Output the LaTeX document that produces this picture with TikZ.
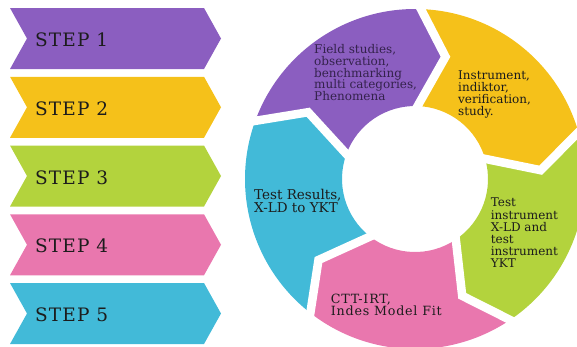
\documentclass[tikz,border=0pt]{standalone}
\usepackage{fontspec}
\setmainfont{DejaVu Serif}
\newfontfamily\spacedserif[LetterSpace=6]{DejaVu Serif}
\usetikzlibrary{calc}
\definecolor{cPurple}{HTML}{8B5EC0}
\definecolor{cYellow}{HTML}{F5C11A}
\definecolor{cGreen}{HTML}{B3D33D}
\definecolor{cPink}{HTML}{E977AE}
\definecolor{cBlue}{HTML}{42BAD8}
\definecolor{ink}{HTML}{1C1C1C}
\definecolor{inkPurple}{HTML}{34224C}

\begin{document}
\begin{tikzpicture}[x=1pt,y=-1pt,
  steplabel/.style={anchor=base west, inner sep=0pt,
    font=\spacedserif\fontsize{18.5}{20}\selectfont, text=ink},
  ringlabel/.style={anchor=north west, inner sep=0pt, align=left, text=ink},
  gapline/.style={white, line width=8.5pt, miter limit=10}]
\useasboundingbox (0,0) rectangle (577,346);
\clip (0,0) rectangle (577,346);

% step chevrons on the left
\foreach \k/\n/\c in {0/1/cPurple,1/2/cYellow,2/3/cGreen,3/4/cPink,4/5/cBlue}{
  \pgfmathsetmacro\yt{8+68.75*\k}
  \fill[\c] (10,\yt) -- (204,\yt) -- (221,\yt+30.5) -- (204,\yt+61)
    -- (10,\yt+61) -- (27,\yt+30.5) -- cycle;
  \node[steplabel] (step\n) at (35,\yt+38.7) {STEP \n};
}

% cycle ring: five chevron-shaped annular segments, clockwise
\begin{scope}[shift={(415,179)}, yscale=-1]
  \foreach \i/\c in {0/cPurple,1/cYellow,2/cGreen,3/cPink,4/cBlue}{
    \pgfmathsetmacro\a{160-72*\i}
    \pgfmathsetmacro\b{\a-72}
    \fill[\c] (\a:170) arc[start angle=\a, end angle=\b, radius=170]
      -- (\b-12:126) -- (\b:73) arc[start angle=\b, end angle=\a, radius=73]
      -- (\a-12:126) -- cycle;
  }
  % white gaps between the segments
  \foreach \i in {0,...,4}{
    \pgfmathsetmacro\a{160-72*\i}
    \coordinate (tip\i) at (\a-12:126);
    \draw[gapline] ($(tip\i)!1.3!(\a:170)$) -- (tip\i) -- ($(tip\i)!1.4!(\a:73)$);
  }
\end{scope}

% segment labels
\node[ringlabel, text=inkPurple, font=\fontsize{12}{11.8}\selectfont] (t1) at (314,44.2)
  {Field studies,\\observation,\\benchmarking\\multi categories,\\Phenomena};
\node[ringlabel, font=\fontsize{12}{11.9}\selectfont] (t2) at (458,70.6)
  {Instrument,\\indiktor,\\verification,\\study.};
\node[ringlabel, font=\fontsize{12}{12.2}\selectfont] (t3) at (490.7,198)
  {Test\\instrument\\X-LD and\\test\\instrument\\YKT};
\node[ringlabel, font=\spacedserif\fontsize{12.7}{12.3}\selectfont] (t4) at (330.7,293.4)
  {CTT-IRT,\\Indes Model Fit};
\node[ringlabel, font=\fontsize{13.5}{13.3}\selectfont] (t5) at (254,188.7)
  {Test Results,\\X-LD to YKT};
\end{tikzpicture}
\end{document}
